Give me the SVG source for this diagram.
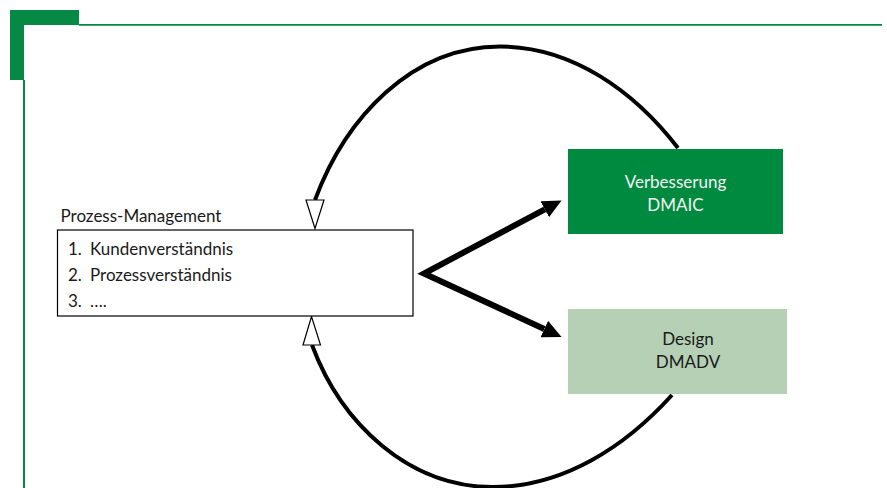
<svg xmlns="http://www.w3.org/2000/svg" width="887" height="488" viewBox="0 0 887 488">
  <style>
    .t { font-family: Lato, "Open Sans", "Liberation Sans", sans-serif; font-size: 17px; }
    .dark { fill: #1a1a1a; }
    .light { fill: #f2f2f2; }
    .arc { fill: none; stroke: #000; stroke-width: 4; }
    .hollow { fill: #fff; stroke: #000; stroke-width: 1.2; }
    .thick { fill: none; stroke: #000; stroke-width: 6; stroke-linejoin: miter; }
  </style>
  <defs>
    <marker id="solid" viewBox="0 0 19 18" refX="0" refY="9" markerWidth="19" markerHeight="18" markerUnits="userSpaceOnUse" orient="auto-start-reverse">
      <path d="M0,0 L19,9 L0,18 Z" fill="#000"/>
    </marker>
  </defs>

  <g id="frame">
    <path d="M10,10 H79 V25 H24 V80 H10 Z" fill="#058945"/>
    <line x1="79" y1="24.8" x2="882" y2="24.8" stroke="#058945" stroke-width="1.7"/>
    <line x1="24" y1="80" x2="24" y2="488" stroke="#058945" stroke-width="2"/>
  </g>

  <g id="connectors">
    <path class="arc" d="M678,148 C634,91 572,46.5 500,46.5 C412,46.5 345.7,117.5 315,200"/>
    <path class="arc" d="M672,395 C625,447 563,487 493,487 C409,487 341.5,424.2 312,345"/>
    <polygon class="hollow" points="306,200 324,200 315,228.5"/>
    <polygon class="hollow" points="303,345 320.5,345 311.5,316.5"/>
    <path class="thick" marker-start="url(#solid)" marker-end="url(#solid)" d="M544.8,209.3 L424,273.5 L544.3,329"/>
  </g>

  <g id="prozess">
    <text class="t dark" x="60.5" y="221.5">Prozess-Management</text>
    <rect x="57.5" y="230" width="355.5" height="86" fill="#fff" stroke="#000" stroke-width="1.2"/>
    <text class="t dark" x="68" y="255">1.</text>
    <text class="t dark" x="90" y="255">Kundenverständnis</text>
    <text class="t dark" x="68" y="281">2.</text>
    <text class="t dark" x="90" y="281">Prozessverständnis</text>
    <text class="t dark" x="68" y="307">3.</text>
    <text class="t dark" x="90" y="307">….</text>
  </g>

  <g id="verbesserung">
    <rect x="568" y="149" width="215" height="85" fill="#008A40"/>
    <text class="t light" x="675.5" y="188" text-anchor="middle">Verbesserung</text>
    <text class="t light" x="675.5" y="210.5" text-anchor="middle">DMAIC</text>
  </g>

  <g id="design">
    <rect x="568" y="309" width="219" height="85" fill="#B5D0B5"/>
    <text class="t dark" x="688" y="345" text-anchor="middle">Design</text>
    <text class="t dark" x="688" y="368" text-anchor="middle">DMADV</text>
  </g>
</svg>
